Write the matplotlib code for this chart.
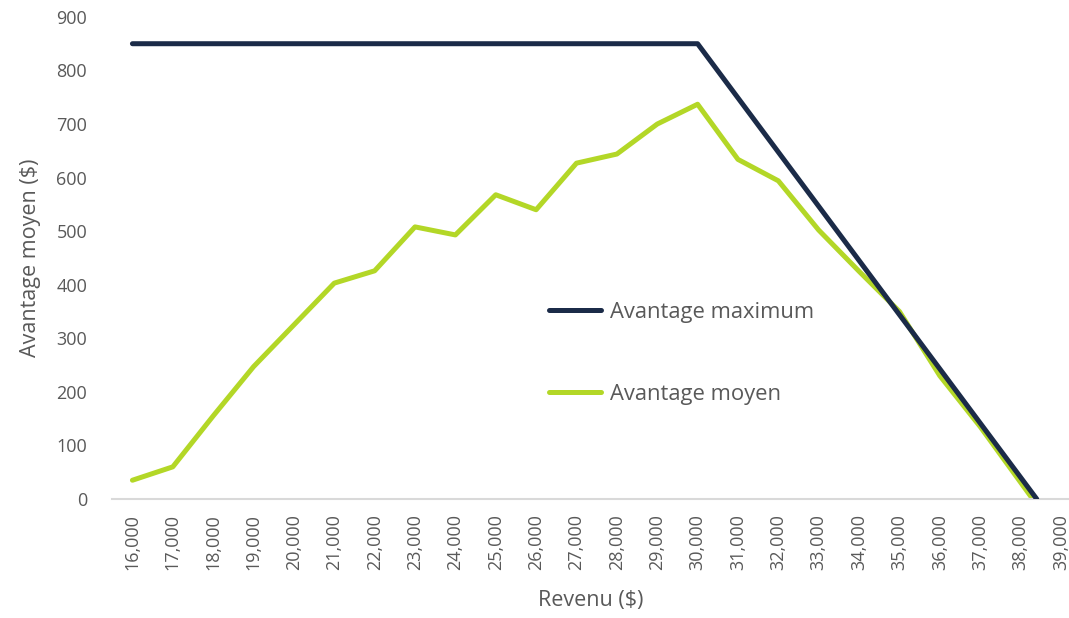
import matplotlib

matplotlib.use("Agg")

import matplotlib.pyplot as plt
from matplotlib.ticker import FuncFormatter, MultipleLocator

# Revenu ($) and benefit values
MAX_REVENU = [16000, 30000, 38400]
MAX_AVANTAGE = [850, 850, 0]

MOY_REVENU = [16000, 17000, 18000, 19000, 20000, 21000, 22000, 23000, 24000,
              25000, 26000, 27000, 28000, 29000, 30000, 31000, 32000, 33000,
              34000, 35000, 36000, 37000, 38300]
MOY_AVANTAGE = [35, 60, 155, 247, 325, 403, 426, 508, 493,
                568, 540, 627, 644, 700, 737, 634, 594, 502,
                425, 350, 230, 135, 0]

NAVY = "#1B2B48"
GREEN = "#B3D727"
GREY_TXT = "#595959"

plt.rcParams.update({
    "font.family": ["Open Sans", "DejaVu Sans"],
    "font.size": 13,
})

fig = plt.figure(figsize=(10.69, 6.18), dpi=100)
ax = fig.add_axes([0.105, 0.1926, 0.895, 0.78])

ax.plot(MAX_REVENU, MAX_AVANTAGE, color=NAVY, linewidth=3.6,
        solid_capstyle="round", solid_joinstyle="round", label="Avantage maximum", zorder=3)
ax.plot(MOY_REVENU, MOY_AVANTAGE, color=GREEN, linewidth=3.6,
        solid_capstyle="round", solid_joinstyle="round", label="Avantage moyen", zorder=2)

ax.set_xlim(15500, 39200)
ax.set_ylim(0, 900)
ax.xaxis.set_major_locator(MultipleLocator(1000))
ax.yaxis.set_major_locator(MultipleLocator(100))
ax.xaxis.set_major_formatter(FuncFormatter(lambda v, _p: f"{int(v):,}"))

for side in ("top", "right", "left"):
    ax.spines[side].set_visible(False)
ax.spines["bottom"].set_color("#D9D9D9")
ax.spines["bottom"].set_linewidth(1.5)

ax.tick_params(axis="y", length=0, pad=18, labelcolor=GREY_TXT, labelsize=13)
ax.tick_params(axis="x", length=0, pad=11, labelcolor=GREY_TXT, labelsize=13,
               labelrotation=90)

ax.set_xlabel("Revenu ($)", color=GREY_TXT, fontsize=15.5, labelpad=14)
ax.set_ylabel("Avantage moyen ($)", color=GREY_TXT, fontsize=15.5, labelpad=11)

leg = ax.legend(loc="center left", bbox_to_anchor=(0.456, 0.302), frameon=False,
                borderpad=0, borderaxespad=0, handlelength=2.4, handletextpad=0.4,
                labelspacing=2.8, fontsize=15.8)
for t in leg.get_texts():
    t.set_color(GREY_TXT)

fig.savefig("out.png", dpi=100)
